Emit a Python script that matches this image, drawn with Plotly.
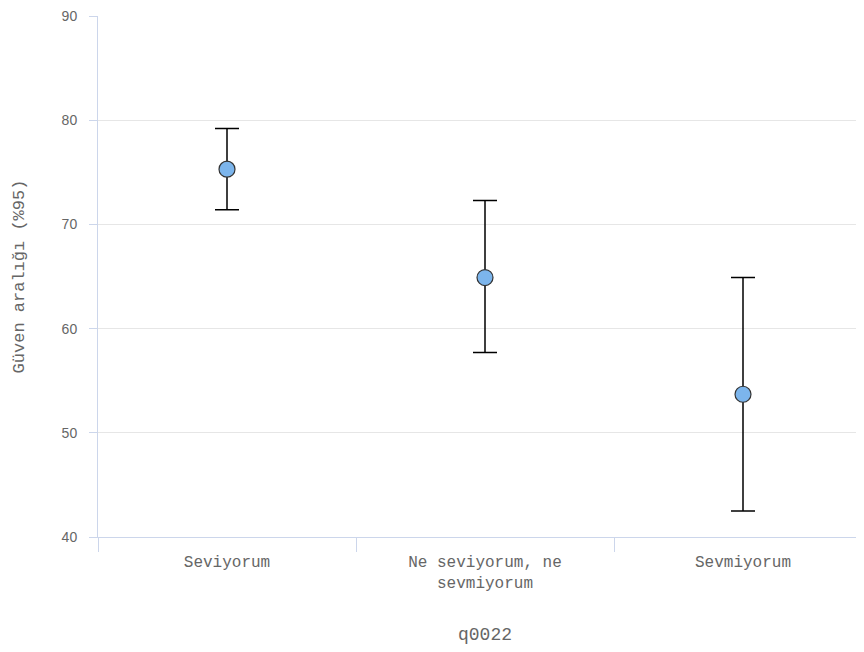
import plotly.graph_objects as go

categories = ["Seviyorum", "Ne seviyorum, ne<br>sevmiyorum", "Sevmiyorum"]
means = [75.3, 64.9, 53.7]
lower = [71.4, 57.7, 42.5]
upper = [79.2, 72.3, 64.9]

err_plus = [u - m for u, m in zip(upper, means)]
err_minus = [m - l for m, l in zip(means, lower)]

mono = "Liberation Mono"
sans = "Liberation Sans"

fig = go.Figure()
fig.add_trace(go.Scatter(
    x=categories, y=means, mode="markers",
    marker=dict(size=16, color="#7cb5ec", line=dict(color="#333333", width=1.2)),
    error_y=dict(type="data", symmetric=False, array=err_plus, arrayminus=err_minus,
                 color="#000000", thickness=1.5, width=12),
    showlegend=False,
))

fig.update_layout(
    width=864, height=652,
    margin=dict(l=90, r=0, t=8, b=123, autoexpand=False),
    plot_bgcolor="white", paper_bgcolor="white",
    xaxis=dict(
        type="category", range=[-0.5, 2.5],
        showgrid=False, showline=True, linecolor="#ccd6eb", linewidth=1,
        ticks="outside", tickson="boundaries", ticklen=14, tickcolor="#ccd6eb",
        ticklabelstandoff=10,
        tickfont=dict(family=mono, size=16, color="#666666"),
        title=dict(text="q0022", font=dict(family=mono, size=18, color="#666666"), standoff=35),
    ),
    yaxis=dict(
        range=[40, 90], dtick=10,
        showgrid=True, gridcolor="#e6e6e6", gridwidth=1,
        showline=True, linecolor="#ccd6eb", linewidth=1,
        ticks="outside", ticklen=8, tickcolor="#ccd6eb",
        ticklabelstandoff=9, ticklabeloverflow="allow",
        zeroline=False,
        tickfont=dict(family=sans, size=14, color="#666666"),
        title=dict(text="Güven aralığı (%95)", font=dict(family=mono, size=17, color="#666666"), standoff=32),
    ),
)

fig.write_html("out.html")
